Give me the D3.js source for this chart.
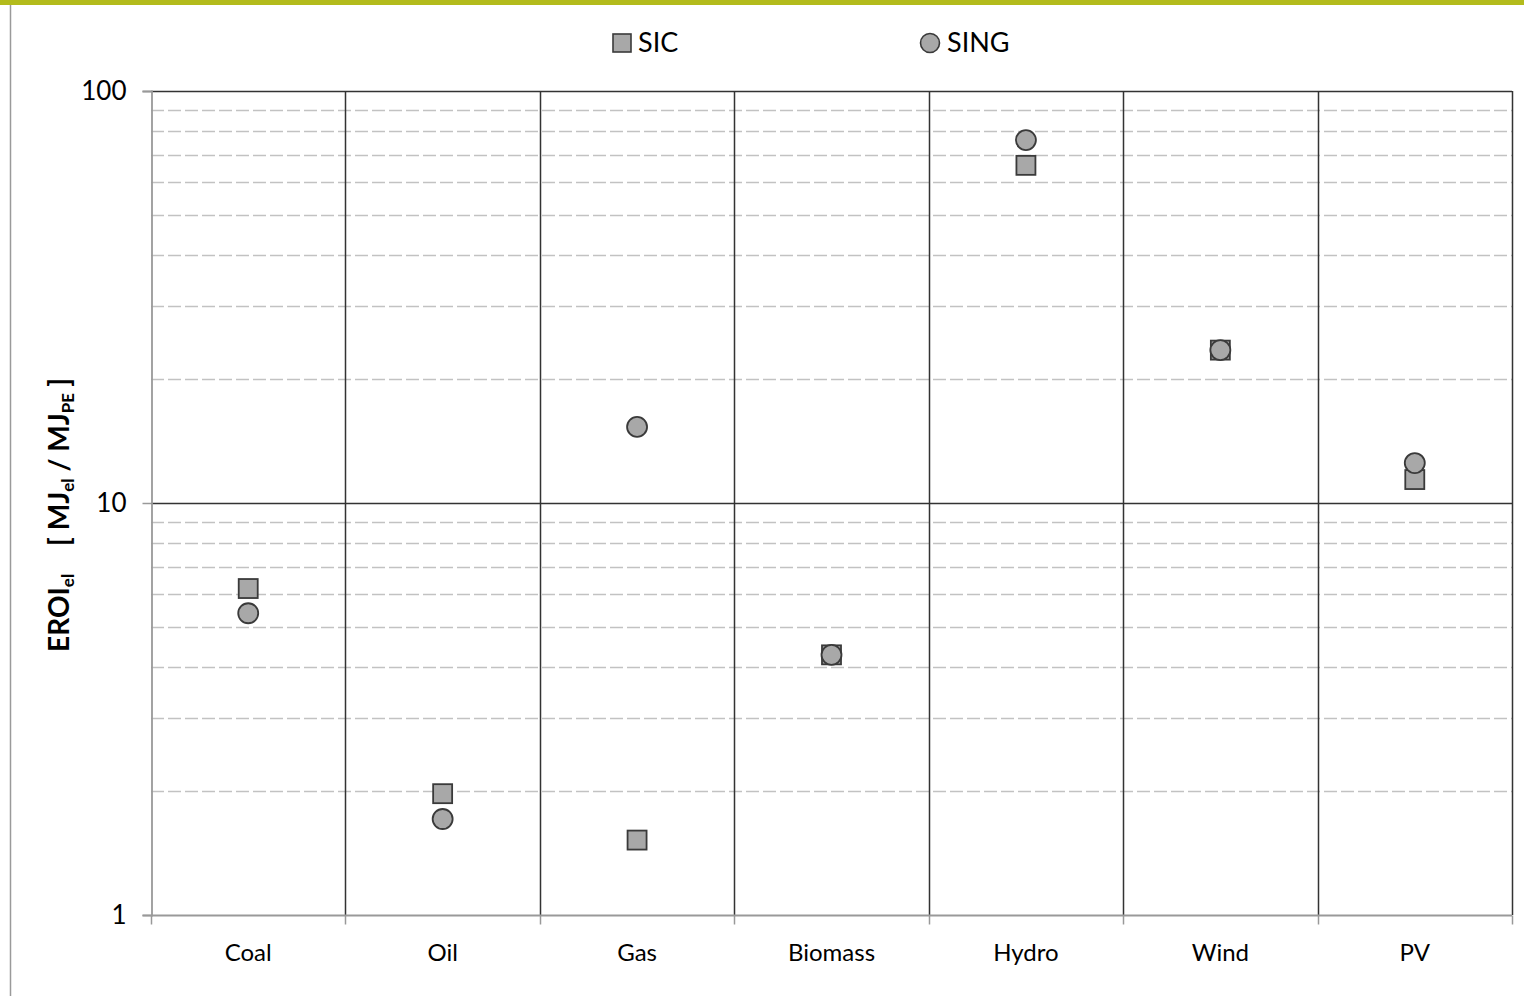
<!DOCTYPE html>
<html>
<head>
<meta charset="utf-8">
<script src="https://cdn.jsdelivr.net/npm/d3@7"></script>
<style>
  html, body { margin: 0; padding: 0; background: #fff; }
  svg { display: block; }
  text { font-family: Lato, "Open Sans", sans-serif; fill: #000; }
</style>
</head>
<body>
<svg id="chart" width="1524" height="996"></svg>
<script>
// Electricity EROI by generation technology, for the two Chilean grids
const categories = ["Coal", "Oil", "Gas", "Biomass", "Hydro", "Wind", "PV"];
const sicValues  = [6.2, 1.97, 1.52, 4.28, 66, 23.5, 11.4];
const singValues = [5.4, 1.71, 15.3, 4.28, 76, 23.5, 12.5];
const majorTicks = [1, 10, 100];
const minorTicks = [2, 3, 4, 5, 6, 7, 8, 9, 20, 30, 40, 50, 60, 70, 80, 90];
const seriesNames = ["SIC", "SING"];

const svg = d3.select("#chart");
const W = 1524, H = 996;
const plot = { left: 151, right: 1512, top: 91, bottom: 915 };

// Frame: olive bar on top, grey edge on the left
svg.append("rect").attr("x", 0).attr("y", 0).attr("width", W).attr("height", 5).attr("fill", "#b3bb1c");
svg.append("line").attr("x1", 10.5).attr("x2", 10.5).attr("y1", 5).attr("y2", H)
  .attr("stroke", "#9a9a9a").attr("stroke-width", 1.5);

const x = d3.scaleBand().domain(categories).range([plot.left, plot.right]).padding(0);
const y = d3.scaleLog().domain([1, 100]).range([plot.bottom, plot.top]);

// Minor dashed gridlines
svg.append("g").selectAll("line").data(minorTicks).join("line")
  .attr("x1", plot.left).attr("x2", plot.right)
  .attr("y1", d => Math.round(y(d)) + 0.5).attr("y2", d => Math.round(y(d)) + 0.5)
  .attr("stroke", "#c2c2c2").attr("stroke-width", 1.6).attr("stroke-dasharray", "13,4");

// Major gridlines (100 and 10)
svg.append("g").selectAll("line").data(majorTicks.filter(d => d > 1)).join("line")
  .attr("x1", plot.left).attr("x2", plot.right)
  .attr("y1", d => Math.round(y(d)) + 0.5).attr("y2", d => Math.round(y(d)) + 0.5)
  .attr("stroke", "#333").attr("stroke-width", 1.5);

// Category separators
const bounds = categories.slice(1).map(c => x(c)).concat([plot.right]);
svg.append("g").selectAll("line").data(bounds).join("line")
  .attr("x1", d => Math.round(d) + 0.5).attr("x2", d => Math.round(d) + 0.5)
  .attr("y1", plot.top).attr("y2", plot.bottom)
  .attr("stroke", "#333").attr("stroke-width", 1.5);

// Y axis
const yAxis = d3.axisLeft(y).tickValues(majorTicks).tickFormat(d3.format("d")).tickSize(9).tickPadding(16);
const gy = svg.append("g").attr("transform", `translate(${plot.left + 0.5},0)`).call(yAxis);
gy.select(".domain").attr("stroke", "#999").attr("stroke-width", 1.8);
gy.selectAll(".tick line").attr("stroke", "#999").attr("stroke-width", 1.5);
gy.selectAll(".tick text").attr("font-size", 26).attr("fill", "#000")
  .style("font-family", "Lato, sans-serif");

// X axis with ticks at category boundaries
const gx = svg.append("g").attr("transform", `translate(0,${plot.bottom + 0.5})`);
gx.append("line").attr("x1", plot.left).attr("x2", plot.right).attr("stroke", "#999").attr("stroke-width", 1.8);
gx.selectAll("line.tk").data([plot.left].concat(bounds)).join("line").attr("class", "tk")
  .attr("x1", d => Math.round(d) + 0.5).attr("x2", d => Math.round(d) + 0.5)
  .attr("y1", 0).attr("y2", 9).attr("stroke", "#999").attr("stroke-width", 1.5);
gx.selectAll("text").data(categories).join("text")
  .attr("x", d => x(d) + x.bandwidth() / 2).attr("y", 45)
  .attr("text-anchor", "middle").attr("font-size", 24).text(d => d);

// Y axis title
const yt = svg.append("text")
  .attr("transform", `translate(69,515) rotate(-90)`)
  .attr("text-anchor", "middle").attr("font-size", 28).attr("font-weight", "bold");
yt.append("tspan").text("EROI");
yt.append("tspan").attr("font-size", 17).attr("dy", 5).text("el");
yt.append("tspan").attr("dy", -5).attr("dx", 28).text("[ MJ");
yt.append("tspan").attr("font-size", 17).attr("dy", 5).text("el");
yt.append("tspan").attr("dy", -5).attr("dx", 7).text("/ MJ");
yt.append("tspan").attr("font-size", 17).attr("dy", 5).text("PE");
yt.append("tspan").attr("dy", -5).attr("dx", 6).text("]");

const fill = "#a8a8a8", stroke = "#3a3a3a", sq = 19, r = 10;
const cx = d => x(d) + x.bandwidth() / 2;

// SIC squares
svg.append("g").selectAll("rect").data(categories.map((c, i) => ({ c, v: sicValues[i] }))).join("rect")
  .attr("x", d => cx(d.c) - sq / 2).attr("y", d => y(d.v) - sq / 2)
  .attr("width", sq).attr("height", sq)
  .attr("fill", fill).attr("stroke", stroke).attr("stroke-width", 1.8);

// SING circles
svg.append("g").selectAll("circle").data(categories.map((c, i) => ({ c, v: singValues[i] }))).join("circle")
  .attr("cx", d => cx(d.c)).attr("cy", d => y(d.v)).attr("r", r)
  .attr("fill", fill).attr("stroke", stroke).attr("stroke-width", 1.8);

// Legend
const lg = svg.append("g");
lg.append("rect").attr("x", 613).attr("y", 34).attr("width", 18).attr("height", 18)
  .attr("fill", fill).attr("stroke", stroke).attr("stroke-width", 1.6);
lg.append("text").attr("x", 638).attr("y", 52).attr("font-size", 27).text(seriesNames[0]);
lg.append("circle").attr("cx", 930).attr("cy", 43).attr("r", 9.5)
  .attr("fill", fill).attr("stroke", stroke).attr("stroke-width", 1.6);
lg.append("text").attr("x", 947).attr("y", 52).attr("font-size", 27).text(seriesNames[1]);
</script>
</body>
</html>
